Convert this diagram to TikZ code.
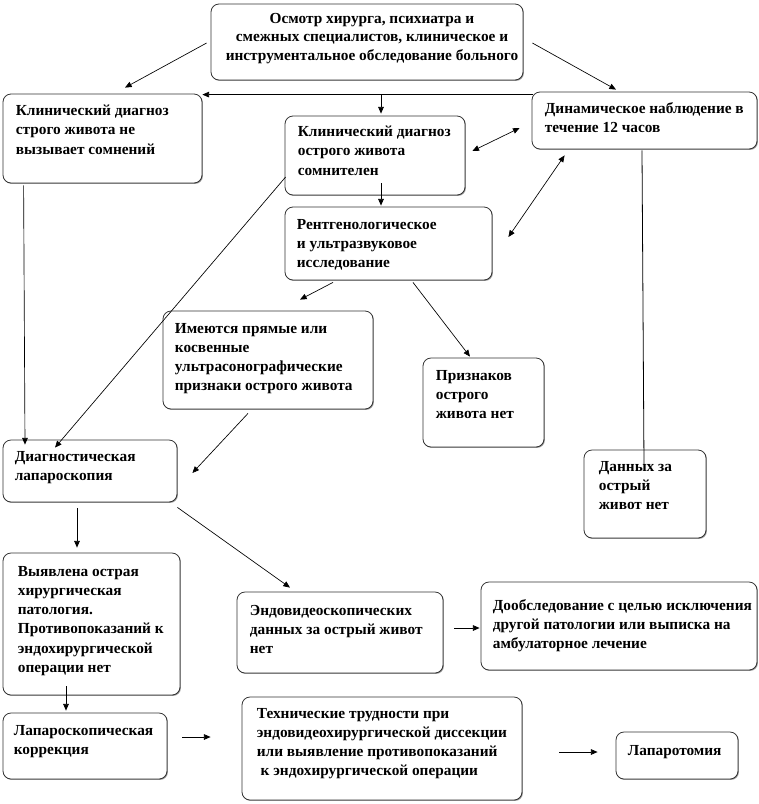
\documentclass[tikz,border=0pt]{standalone}
\usepackage{fontspec}
\setmainfont{Liberation Serif}
\usetikzlibrary{arrows.meta,fit,shadows}
\begin{document}
\begin{tikzpicture}[x=0.75pt,y=-0.75pt,
  box/.style={draw=black!80, line width=0.6pt, rounded corners=6pt, inner sep=0pt, fill=white,
    drop shadow={shadow xshift=0.7pt, shadow yshift=-0.7pt, fill=black!40, opacity=1}},
  txt/.style={anchor=north west, inner sep=0pt, align=left, font=\fontsize{11.5}{14.4}\selectfont\bfseries},
  ctxt/.style={anchor=north, inner sep=0pt, align=center, font=\fontsize{11.5}{13.9}\selectfont\bfseries},
  arr/.style={-{Triangle[length=5pt,width=4.2pt]}, line width=0.5pt},
  darr/.style={{Triangle[length=5pt,width=4.2pt]}-{Triangle[length=5pt,width=4.2pt]}, line width=0.5pt},
  ln/.style={line width=0.6pt}]
\useasboundingbox (0,0) rectangle (759,804);
% boxes
\node[box, fit={(211,4) (523,80)}] (b1) {};
\node[box, fit={(3,94) (202,183)}] (b2) {};
\node[box, fit={(285,116) (465,195)}] (b3) {};
\node[box, fit={(532,92) (757,149)}] (b4) {};
\node[box, fit={(285,207) (492,280)}] (b5) {};
\node[box, fit={(163,311) (373,409)}] (b6) {};
\node[box, fit={(423,358) (544,447)}] (b7) {};
\node[box, fit={(584,450) (706,538)}] (b8) {};
\node[box, fit={(3,440) (177,502)}] (b9) {};
\node[box, fit={(3,553) (180,695)}] (b10) {};
\node[box, fit={(237,592) (443,673)}] (b11) {};
\node[box, fit={(481,582) (757,670)}] (b12) {};
\node[box, fit={(3,713) (167,779)}] (b13) {};
\node[box, fit={(242,697) (522,800)}] (b14) {};
\node[box, fit={(616,732) (738,779)}] (b15) {};
% texts
\node[ctxt] (t1) at ([shift={(5,6.4)}]b1.north) {\strut Осмотр хирурга, психиатра и\\смежных специалистов, клиническое и\\инструментальное обследование больного};
\node[txt] (t2) at ([shift={(13,8.4)}]b2.north west) {\strut Клинический диагноз\\строго живота не\\вызывает сомнений};
\node[txt] (t3) at ([shift={(13,7.4)}]b3.north west) {\strut Клинический диагноз\\острого живота\\сомнителен};
\node[txt] (t4) at ([shift={(13,8)}]b4.north west) {\strut Динамическое наблюдение в\\течение 12 часов};
\node[txt] (t5) at ([shift={(12,9)}]b5.north west) {\strut Рентгенологическое\\и ультразвуковое\\исследование};
\node[txt] (t6) at ([shift={(12,9)}]b6.north west) {\strut Имеются прямые или\\косвенные\\ультрасонографические\\признаки острого живота};
\node[txt] (t7) at ([shift={(13,9)}]b7.north west) {\strut Признаков\\острого\\живота нет};
\node[txt] (t8) at ([shift={(15,8)}]b8.north west) {\strut Данных за\\острый\\живот нет};
\node[txt] (t9) at ([shift={(12,8)}]b9.north west) {\strut Диагностическая\\лапароскопия};
\node[txt] (t10) at ([shift={(15,10)}]b10.north west) {\strut Выявлена острая\\хирургическая\\патология.\\Противопоказаний к\\эндохирургической\\операции нет};
\node[txt] (t11) at ([shift={(13,10)}]b11.north west) {\strut Эндовидеоскопических\\данных за острый живот\\нет};
\node[txt] (t12) at ([shift={(12,15)}]b12.north west) {\strut Дообследование с целью исключения\\другой патологии или выписка на\\амбулаторное лечение};
\node[txt] (t13) at ([shift={(11,9)}]b13.north west) {\strut Лапароскопическая\\коррекция};
\node[txt] (t14) at ([shift={(15,8)}]b14.north west) {\strut Технические трудности при\\эндовидеохирургической диссекции\\или выявление противопоказаний\\\hspace*{0.25em}к эндохирургической операции};
\node[txt] (t15) at ([shift={(12,10)}]b15.north west) {\strut Лапаротомия};
% connectors
\draw[arr] ([shift={(-4,1)}]b1.west) -- ([shift={(22.5,-6)}]b2.north);
\draw[arr] ([shift={(9,1)}]b1.east) -- ([shift={(-28.5,-2)}]b4.north);
\draw[arr] ([shift={(1,3)}]b4.north west) -- ([shift={(0,1)}]b2.north east);
\draw[arr] ([shift={(6,-21)}]b3.north) -- ([shift={(6,-2)}]b3.north);
\draw[arr] ([shift={(6,-12)}]b3.south) -- ([shift={(-7.5,-1)}]b5.north);
\draw[darr] ([shift={(7,-4.5)}]b3.east) -- ([shift={(-12,7.5)}]b4.west);
\draw[darr] ([shift={(33,6)}]b4.south west) -- ([shift={(16,-6.5)}]b5.east);
\draw[arr] ([shift={(21,2)}]b2.south west) -- ([shift={(-65,5)}]b9.north);
\draw[arr] ([shift={(1,21.5)}]b3.west) -- ([shift={(-35,8)}]b9.north);
\draw[arr] ([shift={(-55.5,2)}]b5.south) -- ([shift={(32,-11)}]b6.north);
\draw[arr] ([shift={(24.5,2)}]b5.south) -- ([shift={(-13.5,-1)}]b7.north);
\draw[arr] ([shift={(-20,4)}]b6.south) -- ([shift={(15,2)}]b9.east);
\draw[arr] ([shift={(-13,6)}]b9.south) -- ([shift={(-14.5,-5)}]b10.north);
\draw[arr] ([shift={(0,5)}]b9.south east) -- ([shift={(-50,-4)}]b11.north);
\draw[arr] ([shift={(11,-4.5)}]b11.east) -- ([shift={(-1,2)}]b12.west);
\draw[arr] ([shift={(-25.5,-9)}]b10.south) -- ([shift={(-19,-2)}]b13.north);
\draw[arr] ([shift={(15,-9)}]b13.east) -- ([shift={(-31,-11.5)}]b14.west);
\draw[arr] ([shift={(37,3.5)}]b14.east) -- ([shift={(-18,-3.5)}]b15.west);
\draw[ln] ([shift={(-2.5,1)}]b4.south) -- ([shift={(-1,15)}]b8.north);
\end{tikzpicture}
\end{document}
